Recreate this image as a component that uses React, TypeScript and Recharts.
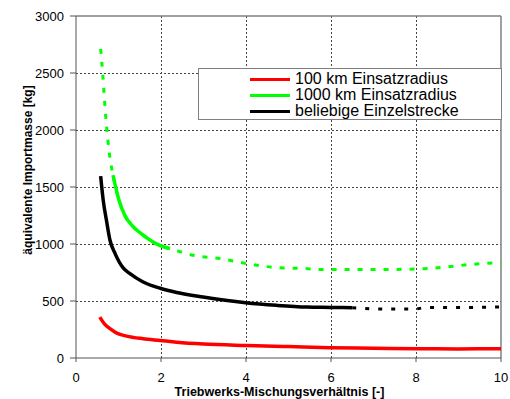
import React from 'react';
import { LineChart, Line, XAxis, YAxis } from 'recharts';

const FONT = '"Liberation Sans", Arial, sans-serif';

// --- Data ---
const xTicks = [0, 2, 4, 6, 8, 10];
const yTicks = [0, 500, 1000, 1500, 2000, 2500, 3000];

// 100 km Einsatzradius
const redX = [0.56, 0.68, 0.8, 0.96, 1.19, 1.58, 1.98, 2.37, 3.0, 4.02, 5.0, 5.98, 7.0, 8.02, 9.0, 10.0];
const redY = [359, 295, 257, 218, 192, 169, 154, 139, 123, 110, 100, 90, 86, 81, 80, 81];

// 1000 km Einsatzradius (solid part)
const greenX = [0.87, 1.0, 1.15, 1.35, 1.58, 1.98, 2.21];
const greenY = [1605, 1400, 1250, 1150, 1077, 985, 960];

// 1000 km Einsatzradius (dashed)
const greenDashX = [0.58, 0.63, 0.67, 0.72, 0.78, 0.87, 1.0, 1.15, 1.35, 1.58, 1.98, 2.21, 2.76, 3.39, 4.02, 4.72, 5.43, 5.74, 6.6, 7.15, 8.09, 8.72, 9.27, 9.9, 10.0];
const greenDashY = [2711, 2485, 2265, 2030, 1810, 1605, 1400, 1250, 1150, 1077, 985, 960, 901, 872, 828, 793, 784, 776, 776, 776, 781, 799, 820, 837, 840];

// beliebige Einzelstrecke (solid part)
const blackX = [0.58, 0.64, 0.72, 0.8, 0.92, 1.11, 1.27, 1.58, 1.98, 2.37, 2.99, 3.99, 4.72, 5.43, 6.0, 6.5];
const blackY = [1596, 1385, 1200, 1033, 916, 790, 740, 667, 612, 575, 535, 485, 462, 447, 444, 441];

// beliebige Einzelstrecke (dashed extension)
const blackDashX = [6.5, 7.0, 8.0, 8.2, 9.0, 10.0];
const blackDashY = [441, 430, 429, 443, 442, 447];

const legendNames = ['100 km Einsatzradius', '1000 km Einsatzradius', 'beliebige Einzelstrecke'];
const legendColors = ['#ff0000', '#00ff00', '#000000'];

const X_MIN = xTicks[0];
const X_MAX = xTicks[xTicks.length - 1];
const Y_MIN = yTicks[0];
const Y_MAX = yTicks[yTicks.length - 1];

// chart geometry
const W = 510;
const H = 399;
const MARGIN = { top: 16, right: 9, left: 0, bottom: 11 };
const Y_AXIS_W = 76;
const X_AXIS_H = 30;
const PLOT = {
  left: MARGIN.left + Y_AXIS_W,
  right: W - MARGIN.right,
  top: MARGIN.top,
  bottom: H - MARGIN.bottom - X_AXIS_H,
};

// merge every series into one table keyed by x
const buildTable = () => {
  const rows = new Map<number, any>();
  const add = (key: string, xs: number[], ys: number[]) => {
    xs.forEach((x, i) => {
      const row = rows.get(x) || { x };
      row[key] = ys[i];
      rows.set(x, row);
    });
  };
  add('red', redX, redY);
  add('green', greenX, greenY);
  add('greenDash', greenDashX, greenDashY);
  add('black', blackX, blackY);
  add('blackDash', blackDashX, blackDashY);
  return Array.from(rows.values()).sort((a, b) => a.x - b.x);
};
const data = buildTable();

// dotted grid + grey frame, placed under the chart svg
const GridFrame = () => {
  const sx = (v: number) => PLOT.left + ((v - X_MIN) / (X_MAX - X_MIN)) * (PLOT.right - PLOT.left);
  const sy = (v: number) => PLOT.bottom - ((v - Y_MIN) / (Y_MAX - Y_MIN)) * (PLOT.bottom - PLOT.top);
  return (
    <svg width={W} height={H} style={{ position: 'absolute', left: 0, top: 0 }}>
      {yTicks.slice(1, -1).map((v) => (
        <line key={`h${v}`} x1={PLOT.left} x2={PLOT.right} y1={Math.round(sy(v)) + 0.5} y2={Math.round(sy(v)) + 0.5}
          stroke="#444" strokeDasharray="2 2" />
      ))}
      {xTicks.slice(1, -1).map((v) => (
        <line key={`v${v}`} x1={Math.round(sx(v)) + 0.5} x2={Math.round(sx(v)) + 0.5} y1={PLOT.top} y2={PLOT.bottom}
          stroke="#444" strokeDasharray="2 2" />
      ))}
      <line x1={PLOT.left} x2={PLOT.right} y1={PLOT.top} y2={PLOT.top} stroke="#808080" strokeWidth={1.5} />
      <line x1={PLOT.right} x2={PLOT.right} y1={PLOT.top} y2={PLOT.bottom} stroke="#808080" strokeWidth={1.5} />
    </svg>
  );
};

const XTitle = ({ viewBox }: any) => (
  <text
    x={viewBox.x + viewBox.width / 2 - 9}
    y={viewBox.y + 38}
    textAnchor="middle"
    fontFamily={FONT}
    fontWeight="bold"
    fontSize={12.5}
    fill="#000"
  >
    Triebwerks-Mischungsverhältnis [-]
  </text>
);

const YTitle = ({ viewBox }: any) => {
  const cx = 28;
  const cy = viewBox.y + viewBox.height / 2 - 17;
  return (
    <text
      x={cx}
      y={cy}
      transform={`rotate(-90 ${cx} ${cy})`}
      textAnchor="middle"
      dominantBaseline="central"
      fontFamily={FONT}
      fontWeight="bold"
      fontSize={12}
      fill="#000"
    >
      äquivalente Importmasse [kg]
    </text>
  );
};

const LegendBox = () => (
  <div
    style={{
      position: 'absolute', left: 198, top: 68, width: 304, height: 52,
      boxSizing: 'border-box', border: '1px solid #808080', background: '#fff',
      paddingTop: 2, paddingLeft: 51, fontFamily: FONT, fontSize: 16,
    }}
  >
    {legendNames.map((name, i) => (
      <div key={name} style={{ display: 'flex', alignItems: 'center', height: 16, lineHeight: '16px' }}>
        <span style={{ display: 'inline-block', width: 40, height: 3, background: legendColors[i], marginRight: 5 }} />
        <span style={{ color: '#000', whiteSpace: 'nowrap' }}>{name}</span>
      </div>
    ))}
  </div>
);

export default function App() {
  return (
    <>
      <style>{'body{margin:0;background:#fff}'}</style>
      <GridFrame />
      <LineChart width={W} height={H} data={data} margin={MARGIN}>
        <XAxis
          type="number"
          dataKey="x"
          domain={[X_MIN, X_MAX]}
          ticks={xTicks}
          height={X_AXIS_H}
          stroke="#555"
          tickSize={4}
          tickMargin={11}
          tick={{ fill: '#000', fontSize: 13, fontFamily: FONT }}
          label={{ content: <XTitle /> }}
        />
        <YAxis
          type="number"
          domain={[Y_MIN, Y_MAX]}
          ticks={yTicks}
          width={Y_AXIS_W}
          stroke="#555"
          tickSize={6}
          tickMargin={6}
          tick={{ fill: '#000', fontSize: 13, fontFamily: FONT }}
          label={{ content: <YTitle /> }}
        />

        <Line dataKey="greenDash" type="monotone" connectNulls
          stroke="#00ff00" strokeWidth={3} strokeDasharray="5 8" dot={false} isAnimationActive={false} />
        <Line dataKey="blackDash" type="linear" connectNulls
          stroke="#000" strokeWidth={3} strokeDasharray="4 9" dot={false} isAnimationActive={false} />
        <Line dataKey="red" type="monotone" connectNulls
          stroke="#ff0000" strokeWidth={3.5} dot={false} isAnimationActive={false} />
        <Line dataKey="green" type="monotone" connectNulls
          stroke="#00ff00" strokeWidth={3.5} dot={false} isAnimationActive={false} />
        <Line dataKey="black" type="monotone" connectNulls
          stroke="#000" strokeWidth={3.5} dot={false} isAnimationActive={false} />
      </LineChart>
      <LegendBox />
    </>
  );
}
